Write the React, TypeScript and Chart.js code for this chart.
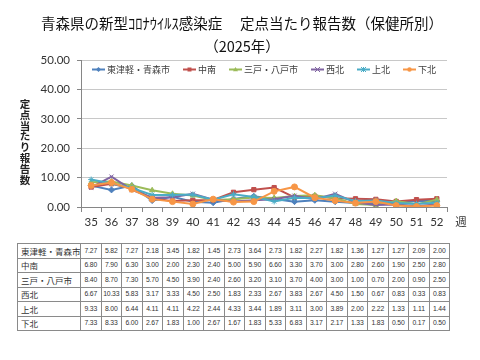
import React, { useEffect, useRef } from "react";
import { Chart, registerables } from "chart.js";

Chart.register(...registerables);

const weeks = ["35", "36", "37", "38", "39", "40", "41", "42", "43", "44", "45", "46", "47", "48", "49", "50", "51", "52"];
const seriesNames = ["東津軽・青森市", "中南", "三戸・八戸市", "西北", "上北", "下北"];
const higashiTsugaruAomori = [7.27, 5.82, 7.27, 2.18, 3.45, 1.82, 1.45, 2.73, 3.64, 2.73, 1.82, 2.27, 1.82, 1.36, 1.27, 1.27, 2.09, 2.0];
const chunan = [6.8, 7.9, 6.3, 3.0, 2.0, 2.3, 2.4, 5.0, 5.9, 6.6, 3.3, 3.7, 3.0, 2.8, 2.6, 1.9, 2.5, 2.8];
const sannoheHachinohe = [8.4, 8.7, 7.3, 5.7, 4.5, 3.9, 2.4, 2.6, 3.2, 3.1, 3.7, 4.0, 3.0, 1.0, 0.7, 2.0, 0.9, 2.5];
const seihoku = [6.67, 10.33, 5.83, 3.17, 3.33, 4.5, 2.5, 1.83, 2.33, 2.67, 3.83, 2.67, 4.5, 1.5, 0.67, 0.83, 0.33, 0.83];
const kamikita = [9.33, 8.0, 6.44, 4.11, 4.11, 4.22, 2.44, 4.33, 3.44, 1.89, 3.11, 3.0, 3.89, 2.0, 2.22, 1.33, 1.11, 1.44];
const shimokita = [7.33, 8.33, 6.0, 2.67, 1.83, 1.0, 2.67, 1.67, 1.83, 5.33, 6.83, 3.17, 2.17, 1.33, 1.83, 0.5, 0.17, 0.5];
const seriesValues = [higashiTsugaruAomori, chunan, sannoheHachinohe, seihoku, kamikita, shimokita];
const yTicks = [0, 10, 20, 30, 40, 50];
const yAxisTitle = "定点当たり報告数";
const xUnit = "週";

const colors = ["#4F81BD", "#C0504D", "#9BBB59", "#8064A2", "#4BACC6", "#F79646"];
const pointStyles = ["rectRot", "rect", "triangle", "crossRot", "star", "circle"];

const CJK = '"Noto Sans CJK JP", sans-serif';

function drawMarker(ctx: CanvasRenderingContext2D, style: string, x: number, y: number, r: number, color: string) {
  ctx.save();
  ctx.fillStyle = color;
  ctx.strokeStyle = color;
  ctx.lineWidth = 1;
  ctx.beginPath();
  if (style === "rectRot") {
    ctx.moveTo(x, y - r); ctx.lineTo(x + r, y); ctx.lineTo(x, y + r); ctx.lineTo(x - r, y); ctx.closePath(); ctx.fill();
  } else if (style === "rect") {
    ctx.rect(x - r * 0.8, y - r * 0.8, r * 1.6, r * 1.6); ctx.fill();
  } else if (style === "triangle") {
    ctx.moveTo(x, y - r); ctx.lineTo(x + r, y + r * 0.7); ctx.lineTo(x - r, y + r * 0.7); ctx.closePath(); ctx.fill();
  } else if (style === "crossRot") {
    ctx.moveTo(x - r, y - r); ctx.lineTo(x + r, y + r); ctx.moveTo(x + r, y - r); ctx.lineTo(x - r, y + r); ctx.stroke();
  } else if (style === "star") {
    ctx.moveTo(x - r, y - r); ctx.lineTo(x + r, y + r); ctx.moveTo(x + r, y - r); ctx.lineTo(x - r, y + r);
    ctx.moveTo(x, y - r); ctx.lineTo(x, y + r); ctx.stroke();
  } else {
    ctx.arc(x, y, r * 0.9, 0, Math.PI * 2); ctx.fill();
  }
  ctx.restore();
}

const decorPlugin = {
  id: "decor",
  afterDraw(chart: any) {
    const ctx: CanvasRenderingContext2D = chart.ctx;
    const area = chart.chartArea;
    // legend
    ctx.save();
    ctx.font = `9px ${CJK}`;
    ctx.textBaseline = "middle";
    const lineLen = 13;
    const gapText = 2;
    const gapItem = 13;
    const widths = seriesNames.map((n) => ctx.measureText(n).width);
    const total = widths.reduce((a, w) => a + lineLen + gapText + w, 0) + gapItem * (seriesNames.length - 1);
    let x = (area.left + area.right) / 2 - total / 2;
    const y = area.top + 9.5;
    seriesNames.forEach((n, i) => {
      ctx.strokeStyle = colors[i];
      ctx.lineWidth = 2;
      ctx.beginPath();
      ctx.moveTo(x, y);
      ctx.lineTo(x + lineLen, y);
      ctx.stroke();
      drawMarker(ctx, pointStyles[i], x + lineLen / 2, y, 2.5, colors[i]);
      ctx.fillStyle = "#404040";
      ctx.textAlign = "left";
      ctx.fillText(n, x + lineLen + gapText, y + 0.5);
      x += lineLen + gapText + widths[i] + gapItem;
    });
    // y axis title (stacked vertical)
    ctx.font = `bold 10.5px ${CJK}`;
    ctx.fillStyle = "#222";
    ctx.textAlign = "center";
    const chars = Array.from(yAxisTitle);
    chars.forEach((c, i) => {
      ctx.fillText(c, 25, 104 + i * 10.8);
    });
    // x unit
    ctx.font = `11.5px ${CJK}`;
    ctx.fillStyle = "#333";
    ctx.fillText(xUnit, 461, area.bottom + 15);
    ctx.restore();
  },
};

function ChartView() {
  const ref = useRef<HTMLCanvasElement | null>(null);
  useEffect(() => {
    if (!ref.current) return;
    const chart = new Chart(ref.current, {
      type: "line",
      data: {
        labels: weeks,
        datasets: seriesValues.map((vals, i) => ({
          label: seriesNames[i],
          data: vals,
          borderColor: colors[i],
          backgroundColor: colors[i],
          pointBackgroundColor: colors[i],
          pointBorderColor: colors[i],
          pointStyle: pointStyles[i] as any,
          pointRadius: 3,
          pointBorderWidth: 1,
          borderWidth: 2,
          tension: 0,
          order: seriesValues.length - i,
        })),
      },
      options: {
        animation: false,
        responsive: false,
        layout: { padding: { left: 0, top: 60, right: 33, bottom: 0 } },
        plugins: {
          legend: { display: false },
          tooltip: { enabled: false },
          title: { display: false },
        },
        scales: {
          x: {
            type: "category",
            offset: true,
            grid: { offset: true, drawOnChartArea: false, drawTicks: true, tickLength: 5, color: "#868686", tickColor: "#868686" },
            border: { color: "#868686" },
            ticks: { color: "#333", font: { family: "Lato", size: 11.5 }, padding: 3, maxRotation: 0, autoSkip: false },
            afterFit: (s: any) => { s.height = 33; },
          },
          y: {
            min: 0,
            max: 50,
            afterBuildTicks: (s: any) => { s.ticks = yTicks.map((v) => ({ value: v })); },
            grid: { color: "#C8C8C8", tickLength: 4, tickColor: "#868686" },
            border: { color: "#868686" },
            ticks: { color: "#333", font: { family: "Lato", size: 11.5 }, padding: 7, callback: (v: any) => Number(v).toFixed(2) },
            afterFit: (s: any) => { s.width = 81; },
          },
        },
      },
      plugins: [decorPlugin],
    });
    return () => chart.destroy();
  }, []);
  return <canvas ref={ref} width={480} height={240} style={{ position: "absolute", left: 0, top: 0, width: 480, height: 240 }} />;
}

export default function App() {
  const cellBorder = "1px solid #8a8a8a";
  return (
    <div style={{ position: "absolute", left: 0, top: 0, width: 480, height: 360, background: "#fff", overflow: "hidden" }}>
      <div
        style={{
          position: "absolute",
          left: 0,
          top: 11,
          width: 484,
          textAlign: "center",
          fontFamily: CJK,
          fontSize: 14.5,
          lineHeight: "23px",
          color: "#111",
          whiteSpace: "pre",
          zIndex: 2,
        }}
      >
        <div>青森県の新型ｺﾛﾅｳｲﾙｽ感染症　 定点当たり報告数（保健所別）</div>
        <div>（2025年）</div>
      </div>
      <ChartView />
      <table
        style={{
          position: "absolute",
          left: 17,
          top: 243,
          width: 432,
          height: 87,
          borderCollapse: "collapse",
          tableLayout: "fixed",
          border: "1px solid #555",
          color: "#333",
        }}
      >
        <colgroup>
          <col style={{ width: 63 }} />
          {weeks.map((w) => (
            <col key={w} style={{ width: 20.5 }} />
          ))}
        </colgroup>
        <tbody>
          {seriesNames.map((name, i) => (
            <tr key={name} style={{ height: 14.5 }}>
              <td style={{ border: cellBorder, padding: "0 0 0 3px", fontFamily: CJK, fontSize: 8.5, whiteSpace: "nowrap", overflow: "hidden", lineHeight: "12px" }}>{name}</td>
              {seriesValues[i].map((v, j) => (
                <td
                  key={j}
                  style={{
                    border: cellBorder,
                    padding: 0,
                    textAlign: "center",
                    fontFamily: '"Liberation Sans", sans-serif',
                    fontSize: 6.8,
                    letterSpacing: -0.2,
                    whiteSpace: "nowrap",
                    overflow: "hidden",
                    lineHeight: "12px",
                  }}
                >
                  {v.toFixed(2)}
                </td>
              ))}
            </tr>
          ))}
        </tbody>
      </table>
    </div>
  );
}
